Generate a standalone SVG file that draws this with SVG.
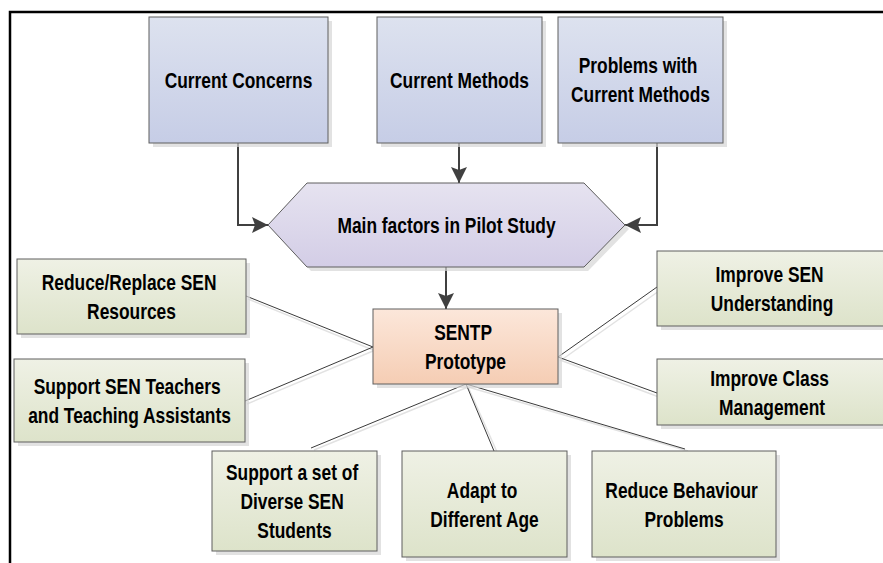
<svg xmlns="http://www.w3.org/2000/svg" width="883" height="563" viewBox="0 0 883 563">
  <defs>
    <linearGradient id="gBlue" x1="0" y1="0" x2="0" y2="1">
      <stop offset="0" stop-color="#dde2ef"/>
      <stop offset="1" stop-color="#c6cde6"/>
    </linearGradient>
    <linearGradient id="gHex" x1="0" y1="0" x2="0" y2="1">
      <stop offset="0" stop-color="#e6e3f0"/>
      <stop offset="1" stop-color="#d3cde6"/>
    </linearGradient>
    <linearGradient id="gPeach" x1="0" y1="0" x2="0" y2="1">
      <stop offset="0" stop-color="#fce7da"/>
      <stop offset="1" stop-color="#f5cdb4"/>
    </linearGradient>
    <linearGradient id="gGreen" x1="0" y1="0" x2="0" y2="1">
      <stop offset="0" stop-color="#eff1e5"/>
      <stop offset="1" stop-color="#dde3ca"/>
    </linearGradient>
    <marker id="arrow" viewBox="0 0 16 16" refX="16" refY="8" markerWidth="16" markerHeight="16" markerUnits="userSpaceOnUse" orient="auto">
      <path d="M0,0 L16,8 L0,16 L3,8 z" fill="#404040"/>
    </marker>
  </defs>
  <style>
    .shadow { fill: #d6d6d6; opacity: 0.7; }
    .box { stroke: #5e5e5e; stroke-width: 1; }
    .blue { fill: url(#gBlue); }
    .hex { fill: url(#gHex); }
    .peach { fill: url(#gPeach); }
    .green { fill: url(#gGreen); }
    .lbl { font-family: "Liberation Sans", Arial, sans-serif; font-weight: bold; font-size: 22px; fill: #000; text-anchor: middle; }
    .conn { fill: none; stroke: #404040; stroke-width: 2; }
    .spoke { fill: none; stroke: #3a3a3a; stroke-width: 1; }
    .spokeSh { fill: none; stroke: #e2e2e2; stroke-width: 1.5; }
    .frame { fill: none; stroke: #000; stroke-width: 2.5; }
  </style>

  <rect width="883" height="563" fill="#ffffff"/>
  <path class="frame" d="M10,563 V12 H883"/>

  <g id="connectors">
    <path class="conn" d="M238,143 V225 H268" marker-end="url(#arrow)"/>
    <path class="conn" d="M459,143 V183" marker-end="url(#arrow)"/>
    <path class="conn" d="M657,143 V225 H625" marker-end="url(#arrow)"/>
    <path class="conn" d="M446,267 V309" marker-end="url(#arrow)"/>
    <g id="spoke-shadows">
      <line class="spokeSh" x1="248" y1="299" x2="373" y2="350"/>
      <line class="spokeSh" x1="247" y1="404" x2="373" y2="351"/>
      <line class="spokeSh" x1="560" y1="361" x2="659" y2="291"/>
      <line class="spokeSh" x1="560" y1="360" x2="659" y2="397"/>
      <line class="spokeSh" x1="468" y1="387" x2="314" y2="450"/>
      <line class="spokeSh" x1="468" y1="387" x2="497" y2="452"/>
      <line class="spokeSh" x1="468" y1="387" x2="688" y2="451"/>
    </g>
    <line class="spoke" x1="246" y1="296" x2="373" y2="347"/>
    <line class="spoke" x1="245" y1="401" x2="373" y2="347"/>
    <line class="spoke" x1="558" y1="357" x2="657" y2="287"/>
    <line class="spoke" x1="558" y1="357" x2="657" y2="393"/>
    <line class="spoke" x1="466" y1="384" x2="311" y2="448"/>
    <line class="spoke" x1="466" y1="384" x2="494" y2="451"/>
    <line class="spoke" x1="466" y1="384" x2="685" y2="449"/>
  </g>

  <g id="current-concerns">
    <rect class="shadow" x="153" y="21" width="179" height="126"/>
    <rect class="box blue" x="149" y="17" width="179" height="126"/>
    <text class="lbl" transform="translate(238.5,0) scale(0.79,1)" x="0" y="88">Current Concerns</text>
  </g>

  <g id="current-methods">
    <rect class="shadow" x="381" y="21" width="165" height="126"/>
    <rect class="box blue" x="377" y="17" width="165" height="126"/>
    <text class="lbl" transform="translate(459.5,0) scale(0.79,1)" x="0" y="88">Current Methods</text>
  </g>

  <g id="problems-current-methods">
    <rect class="shadow" x="562" y="21" width="165" height="126"/>
    <rect class="box blue" x="558" y="17" width="165" height="126"/>
    <text class="lbl" transform="translate(640.5,0) scale(0.79,1)">
      <tspan x="0" y="73">Problems with</tspan>
      <tspan x="0" y="102.5">Current Methods</tspan>
    </text>
  </g>

  <g id="main-factors">
    <polygon class="shadow" points="272,229 311,187 588,187 629,229 588,271 311,271"/>
    <polygon class="box hex" points="268,225 307,183 584,183 625,225 584,267 307,267"/>
    <text class="lbl" transform="translate(446.5,0) scale(0.79,1)" x="0" y="233">Main factors in Pilot Study</text>
  </g>

  <g id="sentp-prototype">
    <rect class="shadow" x="377" y="313" width="185" height="75"/>
    <rect class="box peach" x="373" y="309" width="185" height="75"/>
    <text class="lbl" transform="translate(465.5,0) scale(0.79,1)">
      <tspan x="0" y="340">SENTP</tspan>
      <tspan x="0" y="369">Prototype</tspan>
    </text>
  </g>

  <g id="reduce-replace">
    <rect class="shadow" x="21" y="263" width="229" height="75"/>
    <rect class="box green" x="17" y="259" width="229" height="75"/>
    <text class="lbl" transform="translate(131.5,0) scale(0.79,1)">
      <tspan x="0" y="290">Reduce/Replace SEN</tspan>
      <tspan x="0" y="319">Resources</tspan>
    </text>
  </g>

  <g id="support-teachers">
    <rect class="shadow" x="18" y="363" width="231" height="83"/>
    <rect class="box green" x="14" y="359" width="231" height="83"/>
    <text class="lbl" transform="translate(129.5,0) scale(0.79,1)">
      <tspan x="0" y="394">Support SEN Teachers</tspan>
      <tspan x="0" y="423">and Teaching Assistants</tspan>
    </text>
  </g>

  <g id="improve-understanding">
    <rect class="shadow" x="661" y="255" width="230" height="75"/>
    <rect class="box green" x="657" y="251" width="230" height="75"/>
    <text class="lbl" transform="translate(772,0) scale(0.79,1)">
      <tspan x="0" y="282">Improve SEN</tspan>
      <tspan x="0" y="311">Understanding</tspan>
    </text>
  </g>

  <g id="improve-class">
    <rect class="shadow" x="661" y="363" width="230" height="66"/>
    <rect class="box green" x="657" y="359" width="230" height="66"/>
    <text class="lbl" transform="translate(772,0) scale(0.79,1)">
      <tspan x="0" y="386">Improve Class</tspan>
      <tspan x="0" y="415">Management</tspan>
    </text>
  </g>

  <g id="support-diverse">
    <rect class="shadow" x="216" y="455" width="165" height="100"/>
    <rect class="box green" x="212" y="451" width="165" height="100"/>
    <text class="lbl" transform="translate(294.5,0) scale(0.79,1)">
      <tspan x="0" y="480">Support a set of</tspan>
      <tspan x="0" y="509">Diverse SEN</tspan>
      <tspan x="0" y="538">Students</tspan>
    </text>
  </g>

  <g id="adapt-age">
    <rect class="shadow" x="406" y="455" width="165" height="106"/>
    <rect class="box green" x="402" y="451" width="165" height="106"/>
    <text class="lbl" transform="translate(484.5,0) scale(0.79,1)">
      <tspan x="0" y="498">Adapt to</tspan>
      <tspan x="0" y="527">Different Age</tspan>
    </text>
  </g>

  <g id="reduce-behaviour">
    <rect class="shadow" x="596" y="455" width="184" height="106"/>
    <rect class="box green" x="592" y="451" width="184" height="106"/>
    <text class="lbl" transform="translate(684,0) scale(0.79,1)">
      <tspan x="0" y="498">Reduce Behaviour</tspan>
      <tspan x="0" y="527">Problems</tspan>
    </text>
  </g>
</svg>
